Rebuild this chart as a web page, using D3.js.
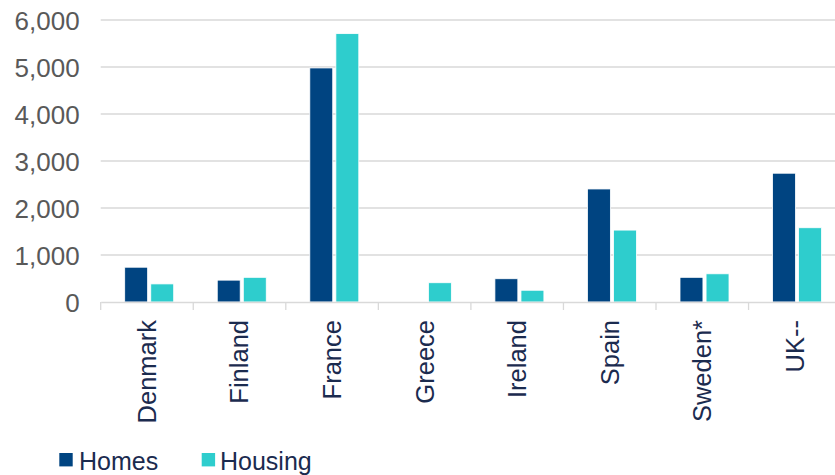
<!DOCTYPE html>
<html>
<head>
<meta charset="utf-8">
<script src="https://cdn.jsdelivr.net/npm/d3@7"></script>
<style>
  html, body { margin: 0; padding: 0; background: #fff; }
  svg { display: block; }
  text { font-family: "Liberation Sans", Arial, sans-serif; }
</style>
</head>
<body>
<svg id="chart" width="835" height="475"></svg>
<script>
const categories = ["Denmark", "Finland", "France", "Greece", "Ireland", "Spain", "Sweden*", "UK--"];
const seriesNames = ["Homes", "Housing"];
const homes   = [740, 465, 4980, 0, 495, 2405, 525, 2740];
const housing = [385, 525, 5710, 410, 250, 1530, 600, 1580];
const yTicks = [0, 1000, 2000, 3000, 4000, 5000, 6000];
const colors = ["#004481", "#2ECDCD"];

const svg = d3.select("#chart");
const plotLeft = 100.7, plotRight = 841.1, plotTop = 20, plotBottom = 302;

const x0 = d3.scaleBand().domain(categories).range([plotLeft, plotRight]).paddingInner(0).paddingOuter(0);
const x1 = d3.scaleBand().domain(seriesNames).range([24, 73]).paddingInner(0.12).paddingOuter(0);
const y = d3.scaleLinear().domain([0, 6000]).range([plotBottom, plotTop]);

// gridlines
svg.append("g").selectAll("line").data(yTicks.filter(d => d > 0)).join("line")
  .attr("x1", plotLeft).attr("x2", plotRight)
  .attr("y1", d => y(d)).attr("y2", d => y(d))
  .attr("stroke", "#d9d9d9").attr("stroke-width", 1.3);

// y axis labels
const yAxis = d3.axisLeft(y).tickValues(yTicks).tickFormat(d3.format(",")).tickSize(0).tickPadding(21);
const gy = svg.append("g").attr("transform", `translate(${plotLeft},0)`).call(yAxis);
gy.select(".domain").remove();
gy.selectAll("text").attr("fill", "#595959").attr("font-size", 26).attr("dy", "0.35em")
  .style("font-family", "'Liberation Sans', Arial, sans-serif");

// bars
const data = categories.map((c, i) => ({ c, vals: [homes[i], housing[i]] }));
const groups = svg.append("g").selectAll("g").data(data).join("g")
  .attr("transform", d => `translate(${x0(d.c)},0)`);
groups.selectAll("rect").data(d => d.vals.map((v, j) => ({ key: seriesNames[j], v, j })).filter(e => e.v > 0)).join("rect")
  .attr("x", e => x1(e.key)).attr("width", x1.bandwidth())
  .attr("y", e => y(e.v)).attr("height", e => y(0) - y(e.v))
  .attr("fill", e => colors[e.j]).attr("stroke", "#ffffff").attr("stroke-width", 0.8);

// x axis
const xAxis = d3.axisBottom(x0).tickSize(0).tickPadding(0);
const gx = svg.append("g").attr("transform", `translate(0,${plotBottom})`).call(xAxis);
gx.select(".domain").attr("stroke", "#d9d9d9").attr("stroke-width", 1.3);
// band boundary ticks
gx.append("g").selectAll("line").data(categories.concat(["__end"])).join("line")
  .attr("x1", (d, i) => plotLeft + i * x0.step()).attr("x2", (d, i) => plotLeft + i * x0.step())
  .attr("y1", 0).attr("y2", 8).attr("stroke", "#d9d9d9").attr("stroke-width", 1.3);
gx.selectAll(".tick text")
  .attr("transform", "rotate(-90)")
  .attr("text-anchor", "end")
  .attr("x", -18).attr("y", 0).attr("dy", "0.35em")
  .attr("fill", "#1b2b4f").attr("font-size", 25.5)
  .style("font-family", "'Liberation Sans', Arial, sans-serif");

// legend
const legendItems = [{ name: "Homes", sx: 59.3, tx: 79 }, { name: "Housing", sx: 201.7, tx: 220 }];
const lg = svg.append("g");
legendItems.forEach((it, i) => {
  lg.append("rect").attr("x", it.sx).attr("y", 453).attr("width", 13.4).attr("height", 13.4).attr("fill", colors[i]);
  lg.append("text").attr("x", it.tx).attr("y", 469.5).attr("font-size", 25).attr("fill", "#1b2b4f").text(it.name);
});
</script>
</body>
</html>
